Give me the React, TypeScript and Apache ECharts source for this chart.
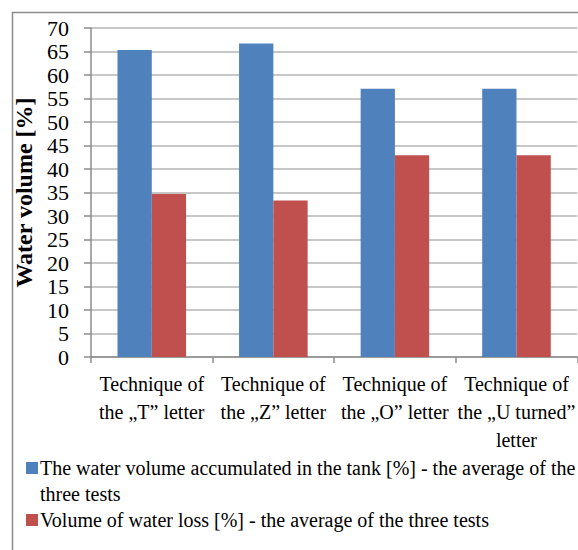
import React, { useEffect, useRef } from "react";
import * as echarts from "echarts";

const categories = [
  "Technique of\nthe „T” letter",
  "Technique of\nthe „Z” letter",
  "Technique of\nthe „O” letter",
  "Technique of\nthe „U turned”\nletter",
];
const seriesNames = [
  "The water volume accumulated in the tank [%] - the average of the three tests",
  "Volume of water loss [%] - the average of the three tests",
];
const accumulated = [65.3, 66.7, 57.1, 57.1];
const loss = [34.7, 33.3, 42.9, 42.9];
const yTitle = "Water volume [%]";

const FONT = "Liberation Serif";
const BLUE = "#4F81BD";
const RED = "#C0504D";

export default function App() {
  const ref = useRef<HTMLDivElement>(null);
  useEffect(() => {
    if (!ref.current) return;
    const chart = echarts.init(ref.current, null, { renderer: "svg" });
    chart.setOption({
      animation: false,
      backgroundColor: "#ffffff",
      textStyle: { fontFamily: FONT },
      graphic: [
        {
          type: "rect",
          left: 10,
          top: 10,
          shape: { width: 700, height: 700 },
          style: { fill: "none", stroke: "#8c8c8c", lineWidth: 1.5 },
          silent: true,
        },
      ],
      grid: { left: 91, top: 28, width: 489, height: 329, containLabel: false },
      xAxis: {
        type: "category",
        data: categories,
        axisLine: { lineStyle: { color: "#8c8c8c", width: 1.5 } },
        axisTick: { show: true, length: 6, lineStyle: { color: "#8c8c8c", width: 1.5 } },
        axisLabel: {
          color: "#000",
          fontFamily: FONT,
          fontSize: 20,
          lineHeight: 28,
          margin: 13,
          interval: 0,
        },
      },
      yAxis: {
        type: "value",
        min: 0,
        max: 70,
        interval: 5,
        name: yTitle,
        nameLocation: "middle",
        nameGap: 40,
        nameTextStyle: { color: "#000", fontFamily: FONT, fontSize: 24, fontWeight: "bold" },
        axisLine: { show: true, lineStyle: { color: "#8c8c8c", width: 1.5 } },
        axisTick: { show: true, length: 7, lineStyle: { color: "#8c8c8c", width: 1.5 } },
        axisLabel: { color: "#000", fontFamily: FONT, fontSize: 22, margin: 22 },
        splitLine: { lineStyle: { color: "#b4b4b4", width: 1.5 } },
      },
      legend: {
        orient: "vertical",
        left: 16,
        top: 450,
        itemWidth: 0,
        itemHeight: 0,
        itemGap: 0,
        icon: "rect",
        data: seriesNames,
        formatter: (name: string) => {
          const idx = seriesNames.indexOf(name);
          const box = idx === 0 ? "sA" : "sB";
          if (name.length > 60) {
            const cut = name.lastIndexOf(" three tests");
            return `{${box}|}{gap|}{t|${name.slice(0, cut)}}\n{pad|}{t|${name.slice(cut + 1)}}`;
          }
          return `{${box}|}{gap|}{t|${name}}`;
        },
        textStyle: {
          color: "#000",
          fontFamily: FONT,
          fontSize: 20,
          lineHeight: 26,
          rich: {
            sA: { width: 12, height: 12, backgroundColor: BLUE },
            sB: { width: 12, height: 12, backgroundColor: RED },
            gap: { width: 2 },
            pad: { width: 14 },
            t: { fontFamily: FONT, fontSize: 20, color: "#000", lineHeight: 26 },
          },
        },
      },
      series: [
        {
          name: seriesNames[0],
          type: "bar",
          data: accumulated,
          itemStyle: { color: BLUE },
          barGap: "0%",
          barCategoryGap: "43.6%",
        },
        {
          name: seriesNames[1],
          type: "bar",
          data: loss,
          itemStyle: { color: RED },
          barGap: "0%",
          barCategoryGap: "43.6%",
        },
      ],
    });
    return () => chart.dispose();
  }, []);
  return (
    <div
      ref={ref}
      style={{ position: "fixed", left: 0, top: 0, width: 578, height: 550 }}
    />
  );
}
